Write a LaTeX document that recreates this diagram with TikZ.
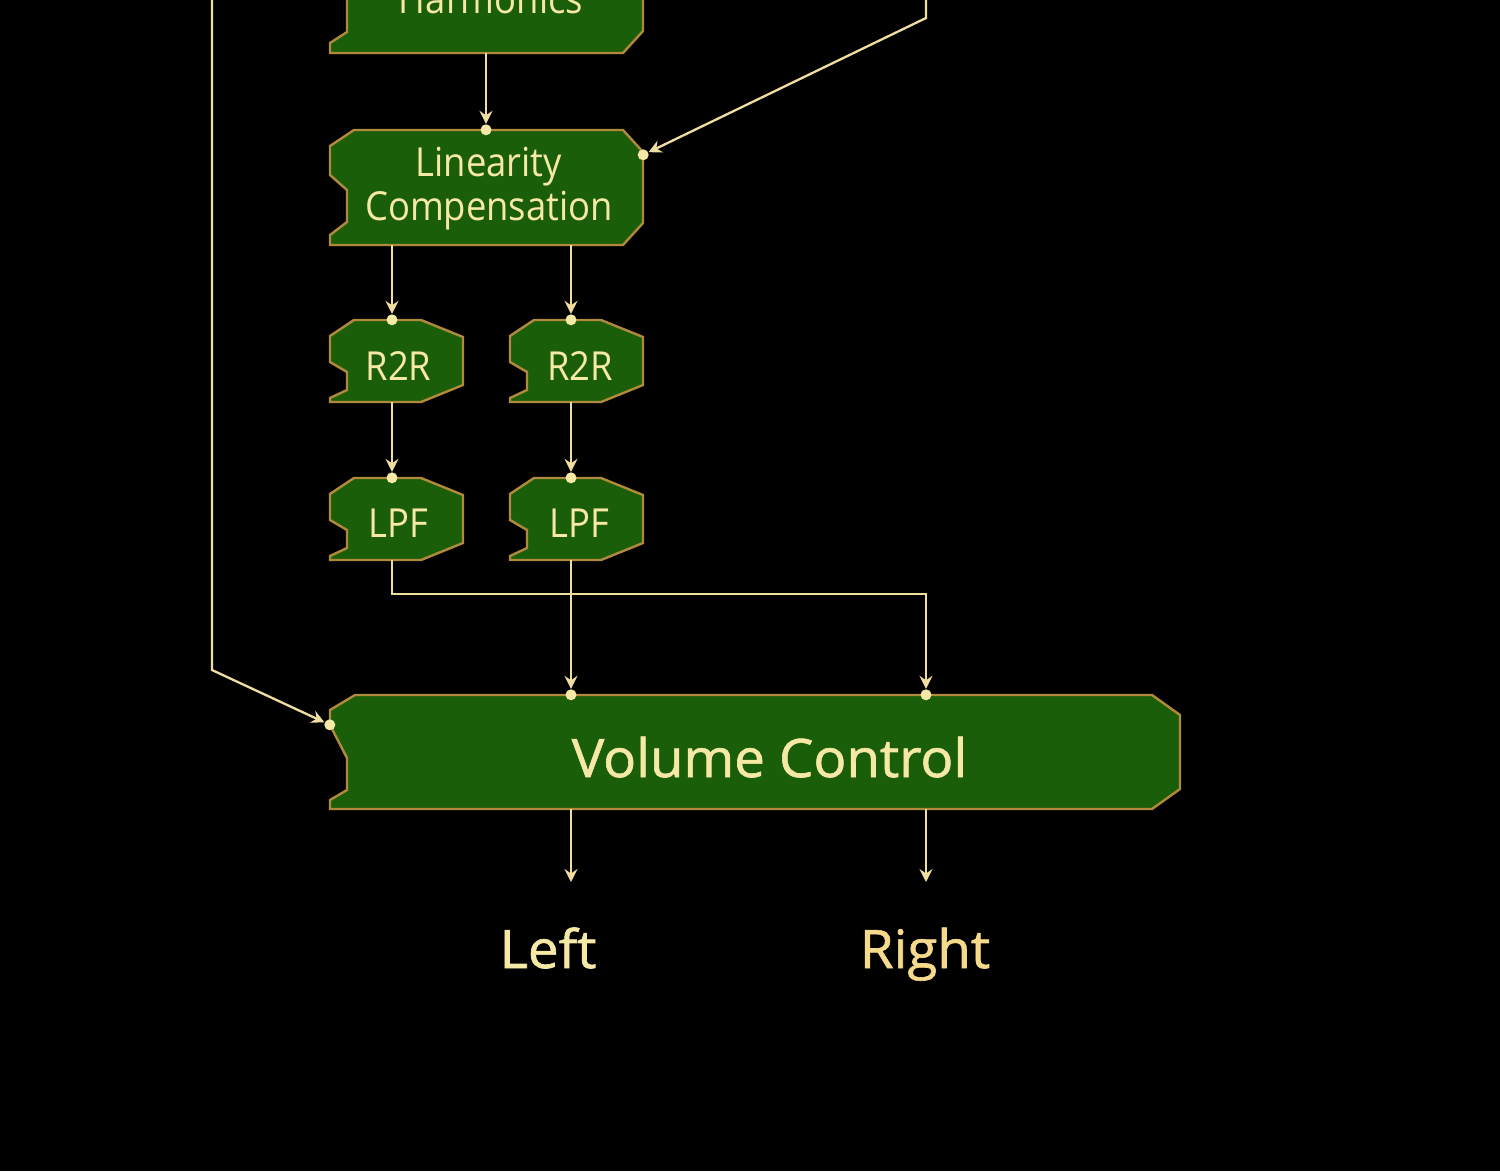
\documentclass[tikz,border=0pt]{standalone}
\usepackage{fontspec}
\setmainfont{Open Sans}
\newfontfamily\smallf{Open Sans}[FakeStretch=0.91]
\newfontfamily\bigf{Open Sans}[FakeBold=1.2, FakeStretch=1.03]
\usetikzlibrary{arrows.meta}
\definecolor{boxfill}{RGB}{27,94,9}
\definecolor{boxline}{RGB}{176,138,58}
\definecolor{ink}{RGB}{246,232,165}
\definecolor{wirec}{RGB}{240,222,160}
\definecolor{inkr}{RGB}{246,218,140}
\def\rch{20}\def\rcv{22}\def\tlh{24}\def\tlv{16}
% #1 name, #2 L, #3 T, #4 R, #5 B, #6..#9 notch y values
\newcommand\tagbox[9]{%
  \filldraw[fill=boxfill, draw=boxline, line width=2.4pt, line join=miter]
    ({#2+\tlh},#3) -- ({#4-\rch},#3) -- (#4,{#3+\rcv}) -- (#4,{#5-\rcv}) -- ({#4-\rch},#5)
    -- (#2,#5) -- (#2,#9) -- ({#2+17},#8) -- ({#2+17},#7) -- (#2,#6) -- (#2,{#3+\tlv}) -- cycle;
  \node[inner sep=0pt, minimum width={(#4-#2)*1pt}, minimum height={(#5-#3)*1pt}] (#1) at ({(#2+#4)/2},{(#3+#5)/2}) {};}
\begin{document}
\begin{tikzpicture}[x=1pt,y=-1pt,
  wire/.style={draw=wirec, line width=2.3pt},
  arr/.style={wire, -{Stealth[length=13pt,width=13pt,inset=4.5pt]}, shorten >=6pt},
  outarr/.style={wire, -{Stealth[length=13pt,width=13pt,inset=4.5pt]}},
  txt/.style={text=ink, inner sep=0pt, font=\smallf\fontsize{40}{44}\selectfont},
  bigtxt/.style={text=ink, inner sep=0pt, font=\bigf\fontsize{53}{60}\selectfont},
  dotc/.style={fill=ink}]
\path[use as bounding box, fill=black] (0,0) rectangle (1500,1171);
\clip (0,0) rectangle (1500,1171);

% ports
\coordinate (pH) at (486,0);
\coordinate (pL) at (392,0);
\coordinate (pR) at (571,0);
\coordinate (pRR) at (926,0);
\coordinate (bus) at (0,594);
\coordinate (outy) at (0,882);
\coordinate (tr0) at (926,-5);
\coordinate (tr1) at (926,18);
\coordinate (tl0) at (212,-5);
\coordinate (tl1) at (212,670);

% boxes
\tagbox{harm}{330}{-62}{643}{53}{-17}{-2}{32}{43}
\node[txt, anchor=base] (harmT) at (491,13) {Harmonics};

\tagbox{lin}{330}{130}{643}{245}{175}{190}{222}{235}
\node[txt, align=center] (linT) at (489,189) {Linearity\\Compensation};

\def\rch{42}\def\rcv{17}
\tagbox{r2ra}{330}{320}{463}{402}{362}{372}{390}{398}
\tagbox{r2rb}{510}{320}{643}{402}{362}{372}{390}{398}
\tagbox{lpfa}{330}{478}{463}{560}{520}{530}{548}{556}
\tagbox{lpfb}{510}{478}{643}{560}{520}{530}{548}{556}
\node[txt, anchor=base] (r2raT) at (398.5,380) {R2R};
\node[txt, anchor=base] (r2rbT) at (580,380) {R2R};
\node[txt, anchor=base] (lpfaT) at (398,537) {LPF};
\node[txt, anchor=base] (lpfbT) at (579,537) {LPF};

\def\rch{28}\def\rcv{20}\def\tlh{25}\def\tlv{15}
\tagbox{vol}{330}{695}{1180}{809}{725}{758}{790}{800}
\node[bigtxt, anchor=base] (volT) at (769.5,777) {Volume Control};

\node[bigtxt, anchor=base] (left) at (548,968) {Left};
\node[bigtxt, anchor=base, text=inkr] (right) at (925,968) {Right};

% connectors
\draw[arr] (harm.south -| pH) -- (lin.north -| pH);
\fill[dotc] (lin.north -| pH) circle (5.5pt);

\draw[arr] (tr0) -- (tr1) -- ([yshift=-25pt]lin.north east);
\fill[dotc] ([yshift=-25pt]lin.north east) circle (5.5pt);

\draw[arr] (lin.south -| pL) -- (r2ra.north -| pL);
\fill[dotc] (r2ra.north -| pL) circle (5.5pt);
\draw[arr] (lin.south -| pR) -- (r2rb.north -| pR);
\fill[dotc] (r2rb.north -| pR) circle (5.5pt);

\draw[arr] (r2ra.south -| pL) -- (lpfa.north -| pL);
\fill[dotc] (lpfa.north -| pL) circle (5.5pt);
\draw[arr] (r2rb.south -| pR) -- (lpfb.north -| pR);
\fill[dotc] (lpfb.north -| pR) circle (5.5pt);

\draw[arr] (lpfa.south -| pL) -- (pL |- bus) -- (pRR |- bus) -- (vol.north -| pRR);
\fill[dotc] (vol.north -| pRR) circle (5.5pt);
\draw[arr] (lpfb.south -| pR) -- (vol.north -| pR);
\fill[dotc] (vol.north -| pR) circle (5.5pt);

\draw[arr] (tl0) -- (tl1) -- ([yshift=-30pt]vol.north west);
\fill[dotc] ([yshift=-30pt]vol.north west) circle (5.5pt);

\draw[outarr] (vol.south -| pR) -- (pR |- outy);
\draw[outarr] (vol.south -| pRR) -- (pRR |- outy);
\end{tikzpicture}
\end{document}
